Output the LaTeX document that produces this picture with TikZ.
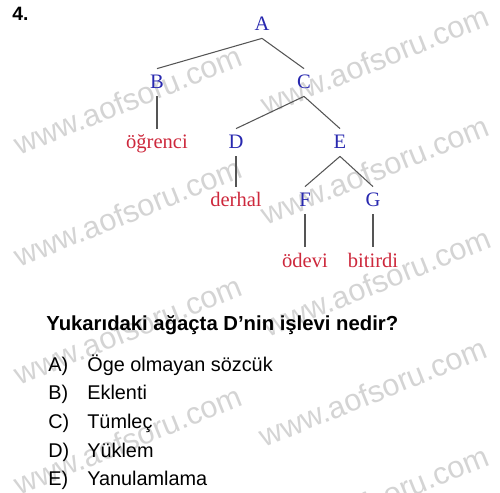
\documentclass[tikz,border=0pt]{standalone}
\usepackage{fontspec}
\setmainfont{Liberation Serif}
\newfontfamily\arialfont{Liberation Sans}
\usetikzlibrary{calc}
\definecolor{treeblue}{RGB}{40,40,175}
\definecolor{treered}{RGB}{205,40,60}
\definecolor{edgegray}{RGB}{85,85,85}
\definecolor{markgray}{RGB}{212,212,212}

\begin{document}
\begin{tikzpicture}[x=0.02cm, y=-0.02cm,
		cat/.style={treeblue, anchor=base, inner sep=0pt, outer ysep=4.2pt, text height=7.4pt, text depth=0pt, font=\fontsize{11.7}{13}\selectfont},
		word/.style={cat, treered},
		branch/.style={edgegray, line width=0.6pt},
		wmark/.style={markgray, rotate=22, inner sep=0pt, font=\arialfont\fontsize{17.5}{20}\selectfont},
		opt/.style={anchor=base west, inner sep=0pt, font=\arialfont\fontsize{11.3}{13}\selectfont}
	]
	\useasboundingbox (0,0) rectangle (500,493);

	% watermarks
	\node[wmark] (wm1) at (128,100) {www.aofsoru.com};
	\node[wmark] (wm2) at (128,212) {www.aofsoru.com};
	\node[wmark] (wm3) at (128,330) {www.aofsoru.com};
	\node[wmark] (wm4) at (128,440) {www.aofsoru.com};
	\node[wmark] (wm5) at (375,60) {www.aofsoru.com};
	\node[wmark] (wm6) at (375,170) {www.aofsoru.com};
	\node[wmark] (wm7) at (377,282) {www.aofsoru.com};
	\node[wmark] (wm8) at (373,392) {www.aofsoru.com};
	\node[wmark] (wm9) at (375,500) {www.aofsoru.com};

	\node[anchor=base west, inner sep=0pt, font=\arialfont\fontsize{11}{13}\bfseries] (num) at (12,21) {4.};

	% tree
	\node[cat] (A) at (262,31) {A};
	\node[cat] (B) at (157,89) {B};
	\node[cat] (C) at (304,89) {C};
	\node[word] (ogrenci) at (157,149) {öğrenci};
	\node[cat] (D) at (236,149) {D};
	\node[cat] (E) at (340,149) {E};
	\node[word] (derhal) at (236,207) {derhal};
	\node[cat] (F) at (305,207) {F};
	\node[cat] (G) at (373,207) {G};
	\node[word] (odevi) at (305,267) {ödevi};
	\node[word] (bitirdi) at (373,267) {bitirdi};

	\draw[branch] (A.south) -- (B.north);
	\draw[branch] (A.south) -- (C.north);
	\draw[branch] (B.south) -- (ogrenci.north);
	\draw[branch] (C.south) -- (D.north);
	\draw[branch] (C.south) -- (E.north);
	\draw[branch] (D.south) -- (derhal.north);
	\draw[branch] (E.south) -- (F.north);
	\draw[branch] (E.south) -- (G.north);
	\draw[branch] (F.south) -- (odevi.north);
	\draw[branch] (G.south) -- (bitirdi.north);

	% question
	\node[opt, font=\arialfont\fontsize{11.55}{13}\bfseries] (soru) at (46,330) {Yukarıdaki ağaçta D’nin işlevi nedir?};
	\node[opt] (optA) at (48,371) {A)};
	\node[opt] (txtA) at (87,371) {Öge olmayan sözcük};
	\node[opt] (optB) at (48,399) {B)};
	\node[opt] (txtB) at (87,399) {Eklenti};
	\node[opt] (optC) at (48,428) {C)};
	\node[opt] (txtC) at (87,428) {Tümleç};
	\node[opt] (optD) at (48,457) {D)};
	\node[opt] (txtD) at (87,457) {Yüklem};
	\node[opt] (optE) at (48,485) {E)};
	\node[opt] (txtE) at (87,485) {Yanulamlama};
\end{tikzpicture}
\end{document}
